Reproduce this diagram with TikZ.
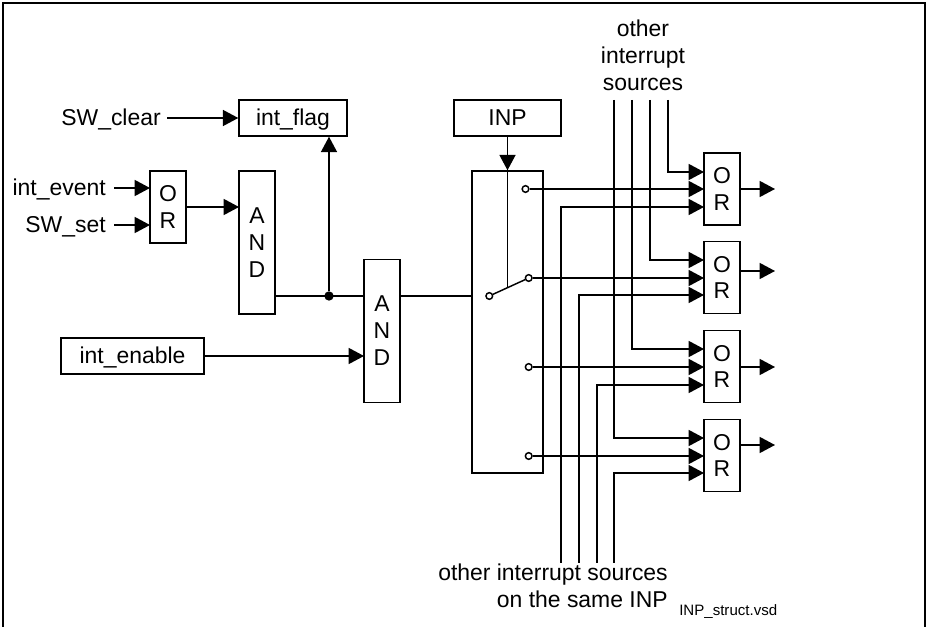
\documentclass[tikz,border=0pt]{standalone}
\usepackage{fontspec}
\setmainfont{Liberation Sans}
\usetikzlibrary{arrows.meta}
\tikzset{
  txt/.style={font=\fontsize{17.2}{20.2}\selectfont},
  wire/.style={line width=1.1pt},
  arw/.style={line width=1.1pt,-{Triangle[length=11.5pt,width=12pt]}},
  lbl/.style={txt,inner ysep=0pt,text height=12pt,text depth=0pt},
  stackbox/.style={txt,draw,line width=1.1pt,inner sep=0pt,align=center,minimum width=27pt},
  namebox/.style={lbl,draw,line width=1.1pt,minimum height=27pt},
  contact/.style={circle,draw,line width=1.1pt,fill=white,inner sep=0pt,minimum size=5pt},
}
\begin{document}
\begin{tikzpicture}[x=0.75pt,y=-0.75pt]
\useasboundingbox (0,0) rectangle (926,627);
\draw[line width=1.1pt] (3,627) -- (3,3) -- (925,3) -- (925,627);
% left part
\node[namebox,minimum width=81pt] (intflag) at (293,118) {int\_flag};
\node[namebox,minimum width=80pt] (inp) at (507.5,118) {INP};
\node[namebox,minimum width=107pt] (intenable) at (132.5,356) {int\_enable};
\node[stackbox,minimum height=54pt] (orin) at (168,207) {O\\R};
\node[stackbox,minimum height=107pt] (andA) at (257,242.5) {A\\N\\D};
\node[stackbox,minimum height=107pt] (andB) at (382,331) {A\\N\\D};
\node[lbl,anchor=east,inner xsep=4.5pt] (swclear) at (167,118) {SW\_clear};
\node[lbl,anchor=east,inner xsep=6pt] (intevent) at (114,188) {int\_event};
\node[lbl,anchor=east,inner xsep=6pt] (swset) at (114,225) {SW\_set};
\coordinate (oreventin) at (150,188);
\coordinate (orsetin) at (150,225);
\coordinate (andAin) at (239,207);
\coordinate (andAout) at (275,296);
\coordinate (andBin) at (364,296);
\coordinate (andBout) at (400,296);
\coordinate (enablein) at (364,356);
\node[circle,fill=black,inner sep=0pt,minimum size=7pt] (junction) at (329,296) {};
\draw[arw] (swclear) -- (intflag);
\draw[arw] (intevent) -- (oreventin);
\draw[arw] (swset) -- (orsetin);
\draw[arw] (orin.east |- andAin) -- (andAin);
\draw[wire] (andAout) -- (andBin);
\draw[arw] (junction) -- (junction |- intflag.south);
\draw[arw] (intenable.east |- enablein) -- (enablein);
% switch
\node[draw,line width=1.1pt,inner sep=0pt,minimum width=53pt,minimum height=226.5pt] (switch) at (507.5,322) {};
\node[contact] (pole) at (489.3,296) {};
\node[contact] (contA) at (525.5,189) {};
\node[contact] (contB) at (528.7,278) {};
\node[contact] (contC) at (528.7,367) {};
\node[contact] (contD) at (528.7,456) {};
\coordinate (swin) at (472,296);
\coordinate (armtop) at (507.5,287);
\draw[wire] (andBout) -- (swin);
\draw[arw] (inp) -- (switch.north);
\draw[line width=0.6pt] (switch.north) -- (armtop);
\draw[wire] (pole) -- (contB);
% OR gates on the right
\node[stackbox,minimum height=54pt] (orA) at (722,189) {O\\R};
\node[stackbox,minimum height=54pt] (orB) at (722,277.5) {O\\R};
\node[stackbox,minimum height=54pt] (orC) at (722,366.5) {O\\R};
\node[stackbox,minimum height=54pt] (orD) at (722,455.5) {O\\R};
\coordinate (topA) at (668,100);
\coordinate (topB) at (650,100);
\coordinate (topC) at (632,100);
\coordinate (topD) at (614,100);
\coordinate (botA) at (561,563);
\coordinate (botB) at (579,563);
\coordinate (botC) at (597,563);
\coordinate (botD) at (614,563);
\coordinate (orAa) at (704,172);
\coordinate (orAb) at (704,189);
\coordinate (orAc) at (704,207);
\coordinate (orBa) at (704,260);
\coordinate (orBb) at (704,278);
\coordinate (orBc) at (704,295);
\coordinate (orCa) at (704,349);
\coordinate (orCb) at (704,367);
\coordinate (orCc) at (704,385);
\coordinate (orDa) at (704,438);
\coordinate (orDb) at (704,456);
\coordinate (orDc) at (704,473);
\coordinate (outA) at (775,189);
\coordinate (outB) at (775,271);
\coordinate (outC) at (775,367);
\coordinate (outD) at (775,445);
\draw[arw] (topA) |- (orAa);
\draw[arw] (contA) -- (orAb);
\draw[arw] (botA) |- (orAc);
\draw[arw] (orA.east |- outA) -- (outA);
\draw[arw] (topB) |- (orBa);
\draw[arw] (contB) -- (orBb);
\draw[arw] (botB) |- (orBc);
\draw[arw] (orB.east |- outB) -- (outB);
\draw[arw] (topC) |- (orCa);
\draw[arw] (contC) -- (orCb);
\draw[arw] (botC) |- (orCc);
\draw[arw] (orC.east |- outC) -- (outC);
\draw[arw] (topD) |- (orDa);
\draw[arw] (contD) -- (orDb);
\draw[arw] (botD) |- (orDc);
\draw[arw] (orD.east |- outD) -- (outD);
% texts
\node[txt,align=center,inner sep=0pt] (othertop) at (643,55) {other\\interrupt\\sources};
\node[txt,align=right,inner sep=0pt,anchor=north east] (otherbot) at (668,564) {other interrupt sources\\on the same INP};
\node[font=\fontsize{11.3}{13}\selectfont,inner sep=0pt,anchor=base west] (vsdname) at (679,616) {INP\_struct.vsd};
\end{tikzpicture}
\end{document}
